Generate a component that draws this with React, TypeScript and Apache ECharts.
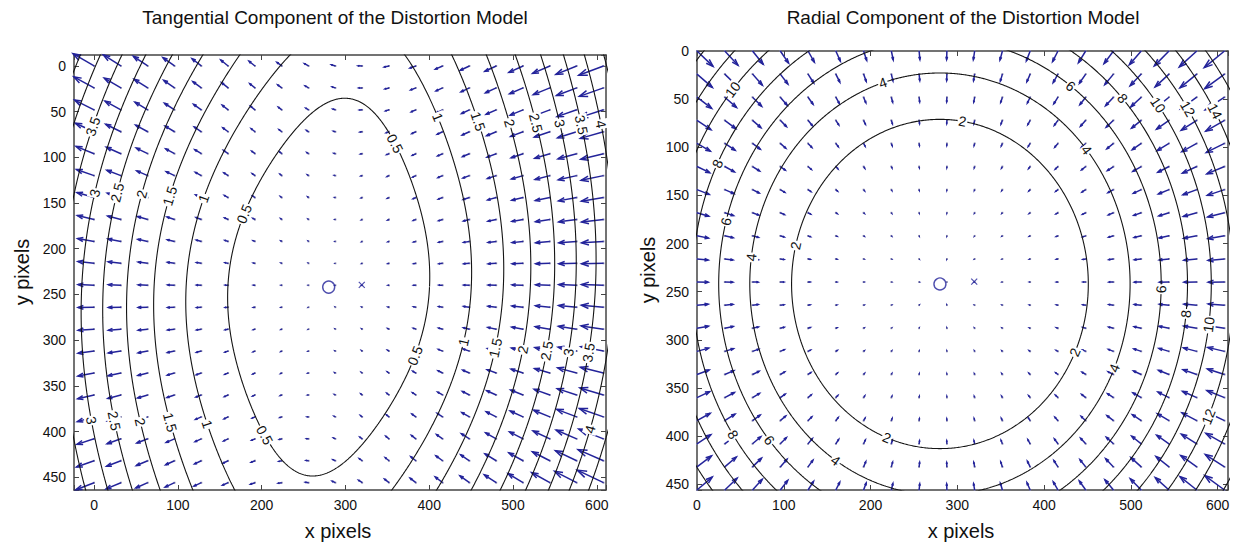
import React, { useEffect, useRef } from "react";
import * as echarts from "echarts";

// ---------- data ----------
// quiver grid (image pixels)
const gridX = [0, 32, 64, 96, 128, 160, 192, 224, 256, 288, 320, 352, 384, 416, 448, 480, 512, 544, 576, 608];
const gridY = [0, 24, 48, 72, 96, 120, 144, 168, 192, 216, 240, 264, 288, 312, 336, 360, 384, 408, 432, 456];
// principal point ("o") and image centre ("x")
const principalPoint = [280, 242];
const imageCenter = [319.5, 239.5];
// contour levels (pixels of displacement)
const tangentialLevels = [0.5, 1, 1.5, 2, 2.5, 3, 3.5, 4, 4.5];
const radialLevels = [2, 4, 6, 8, 10, 12, 14, 16];
// distortion coefficients estimated from the contour spacing
const tangentialCoef = [-1.34e-6, -1.15e-5]; // p1/fc, p2/fc (per pixel)
const radialCoef = [0.4312, -0.01066]; // px displacement: a*(r/100)^3 + b*(r/100)^5
// arrow length relative to MATLAB's auto-scale
const arrowScale = [1.0, 0.85];
// axis ranges
const leftXRange = [-24, 611];
const leftYRange = [-12, 464];
const rightXRange = [0, 612];
const rightYRange = [0, 456];
const titles = ["Tangential Component of the Distortion Model", "Radial Component of the Distortion Model"];

// ---------- layout / style ----------
const FONT = "'Liberation Sans', Arial, Helvetica, sans-serif";
const ARROW = "#23239a";
const LINE = "#151515";
const FRAME = "#444";
const GRIDS = [
  { left: 74, top: 55, width: 532, height: 435 },
  { left: 697, top: 51, width: 531, height: 439 },
];

function tangentialAt(x: number, y: number) {
  const X = x - principalPoint[0];
  const Y = y - principalPoint[1];
  const R2 = X * X + Y * Y;
  const [p1, p2] = tangentialCoef;
  return [2 * p1 * X * Y + p2 * (R2 + 2 * X * X), p1 * (R2 + 2 * Y * Y) + 2 * p2 * X * Y];
}
function radialMag(R: number) {
  const u = R / 100;
  return radialCoef[0] * u * u * u + radialCoef[1] * u * u * u * u * u;
}
function radialAt(x: number, y: number) {
  const X = x - principalPoint[0];
  const Y = y - principalPoint[1];
  const R = Math.hypot(X, Y);
  if (R < 1e-9) return [0, 0];
  const m = radialMag(R);
  return [(-m * X) / R, (-m * Y) / R];
}

function quiverData(field: (x: number, y: number) => number[], extra: number) {
  const pts: number[][] = [];
  for (const y of gridY) for (const x of gridX) {
    const [u, v] = field(x, y);
    pts.push([x, y, u, v]);
  }
  const delx = (gridX[gridX.length - 1] - gridX[0]) / gridX.length;
  const dely = (gridY[gridY.length - 1] - gridY[0]) / gridY.length;
  const del = delx * delx + dely * dely;
  let maxlen = 0;
  for (const p of pts) maxlen = Math.max(maxlen, Math.sqrt((p[2] * p[2] + p[3] * p[3]) / del));
  const s = (0.9 / maxlen) * extra;
  return pts.map((p) => [p[0], p[1], p[2] * s, p[3] * s]);
}

function tangentialContour(L: number) {
  const N = 1440;
  const pts: number[][] = [];
  for (let i = 0; i <= N; i++) {
    const t = (i / N) * Math.PI * 2;
    const c = Math.cos(t), s = Math.sin(t);
    const [u, v] = tangentialAt(principalPoint[0] + c, principalPoint[1] + s);
    const R = Math.sqrt(L / Math.hypot(u, v));
    pts.push([principalPoint[0] + R * c, principalPoint[1] + R * s]);
  }
  return pts;
}
function radialContour(L: number) {
  let lo = 0, hi = 480;
  for (let k = 0; k < 60; k++) {
    const mid = (lo + hi) / 2;
    if (radialMag(mid) < L) lo = mid; else hi = mid;
  }
  const R = (lo + hi) / 2;
  const N = 1440;
  const pts: number[][] = [];
  for (let i = 0; i <= N; i++) {
    const t = (i / N) * Math.PI * 2;
    pts.push([principalPoint[0] + R * Math.cos(t), principalPoint[1] + R * Math.sin(t)]);
  }
  return pts;
}

function visibleRuns(pts: number[][], xr: number[], yr: number[]) {
  const inside = (p: number[]) => p[0] >= xr[0] && p[0] <= xr[1] && p[1] >= yr[0] && p[1] <= yr[1];
  const n = pts.length - 1;
  let start = -1;
  for (let i = 0; i < n; i++) if (!inside(pts[i])) { start = i; break; }
  if (start < 0) return [pts];
  const runs: number[][][] = [];
  let cur: number[][] = [];
  for (let k = 0; k <= n; k++) {
    const p = pts[(start + k) % n];
    if (inside(p)) cur.push(p);
    else { if (cur.length > 1) runs.push(cur); cur = []; }
  }
  if (cur.length > 1) runs.push(cur);
  return runs;
}

function placeLabels(runs: number[][][], sx: number, sy: number, text: string, startGap: number, spacing: number) {
  const out: { d: number[]; t: string }[] = [];
  for (const run of runs) {
    const cum = [0];
    for (let i = 1; i < run.length; i++) {
      cum.push(cum[i - 1] + Math.hypot((run[i][0] - run[i - 1][0]) * sx, (run[i][1] - run[i - 1][1]) * sy));
    }
    const total = cum[cum.length - 1];
    for (let s = startGap; s < total - 25; s += spacing) {
      let i = 0;
      while (i < cum.length - 1 && cum[i] < s) i++;
      const a = run[Math.max(0, i - 4)], b = run[Math.min(run.length - 1, i + 4)];
      out.push({ d: [run[i][0], run[i][1], a[0], a[1], b[0], b[1]], t: text });
    }
  }
  return out;
}

function arrowRender(_params: any, api: any) {
  const x = api.value(0), y = api.value(1), u = api.value(2), v = api.value(3);
  const a = 0.33, b = 0.33, eps = 1e-12;
  const base = api.coord([x, y]);
  const tip = api.coord([x + u, y + v]);
  const h1 = api.coord([x + u - a * (u + b * (v + eps)), y + v - a * (v - b * (u + eps))]);
  const h2 = api.coord([x + u - a * (u - b * (v + eps)), y + v - a * (v + b * (u + eps))]);
  return {
    type: "group",
    children: [
      { type: "rect", shape: { x: base[0] - 0.9, y: base[1] - 0.9, width: 1.8, height: 1.8 }, style: { fill: "#8080a8" } },
      { type: "line", shape: { x1: base[0], y1: base[1], x2: tip[0], y2: tip[1] }, style: { stroke: ARROW, lineWidth: 1.5 } },
      { type: "polyline", shape: { points: [h1, tip, h2] }, style: { stroke: ARROW, fill: "none", lineWidth: 1.5 } },
    ],
  };
}

function labelSeries(labels: { d: number[]; t: string }[], axisIndex: number) {
  return {
    type: "custom",
    xAxisIndex: axisIndex,
    yAxisIndex: axisIndex,
    silent: true,
    clip: false,
    z: 6,
    data: labels.map((l) => l.d),
    renderItem: (params: any, api: any) => {
      const p = api.coord([api.value(0), api.value(1)]);
      const a = api.coord([api.value(2), api.value(3)]);
      const b = api.coord([api.value(4), api.value(5)]);
      let ang = Math.atan2(b[1] - a[1], b[0] - a[0]);
      if (ang > Math.PI / 2) ang -= Math.PI;
      if (ang < -Math.PI / 2) ang += Math.PI;
      return {
        type: "text",
        x: p[0],
        y: p[1],
        rotation: -ang,
        style: {
          text: labels[params.dataIndex].t,
          fill: "#111",
          fontSize: 14,
          fontFamily: FONT,
          align: "center",
          verticalAlign: "middle",
          backgroundColor: "#fff",
          padding: [0, 1],
        },
      };
    },
  };
}

function makeXAxes(gridIndex: number, range: number[]) {
  const common = {
    type: "value",
    gridIndex,
    min: range[0],
    max: range[1],
    splitNumber: 6,
    minInterval: 100,
    maxInterval: 100,
    splitLine: { show: false },
    axisLine: { onZero: false, lineStyle: { color: FRAME, width: 1.5 } },
    axisTick: { inside: true, length: 5, lineStyle: { color: FRAME } },
  };
  return [
    {
      ...common,
      position: "bottom",
      axisLabel: {
        formatter: (v: number) => (Math.abs(v % 100) < 1e-6 ? String(v) : ""),
        fontSize: 14,
        fontFamily: FONT,
        color: "#111",
        margin: 8,
      },
    },
    { ...common, position: "top", axisLabel: { show: false } },
  ];
}
function makeYAxes(gridIndex: number, range: number[]) {
  const common = {
    type: "value",
    gridIndex,
    min: range[0],
    max: range[1],
    inverse: true,
    splitNumber: 9,
    minInterval: 50,
    maxInterval: 50,
    splitLine: { show: false },
    axisLine: { onZero: false, lineStyle: { color: FRAME, width: 1.5 } },
    axisTick: { inside: true, length: 5, lineStyle: { color: FRAME } },
  };
  return [
    {
      ...common,
      position: "left",
      axisLabel: {
        formatter: (v: number) => (Math.abs(v % 50) < 1e-6 ? String(v) : ""),
        fontSize: 14,
        fontFamily: FONT,
        color: "#111",
        margin: 8,
      },
    },
    { ...common, position: "right", axisLabel: { show: false } },
  ];
}

function buildOption() {
  const series: any[] = [];
  const panels = [
    { axis: 0, xr: leftXRange, yr: leftYRange, field: tangentialAt, levels: tangentialLevels, contour: tangentialContour, g: GRIDS[0], k: arrowScale[0] },
    { axis: 2, xr: rightXRange, yr: rightYRange, field: radialAt, levels: radialLevels, contour: radialContour, g: GRIDS[1], k: arrowScale[1] },
  ];
  for (const P of panels) {
    const sx = P.g.width / (P.xr[1] - P.xr[0]);
    const sy = P.g.height / (P.yr[1] - P.yr[0]);
    series.push({
      type: "custom",
      xAxisIndex: P.axis,
      yAxisIndex: P.axis,
      silent: true,
      clip: false,
      z: 2,
      data: quiverData(P.field, P.k),
      renderItem: arrowRender,
    });
    let labels: { d: number[]; t: string }[] = [];
    for (const L of P.levels) {
      const pts = P.contour(L);
      series.push({
        type: "line",
        xAxisIndex: P.axis,
        yAxisIndex: P.axis,
        data: pts,
        showSymbol: false,
        symbol: "none",
        silent: true,
        clip: true,
        z: 3,
        lineStyle: { color: LINE, width: 1.1 },
      });
      labels = labels.concat(placeLabels(visibleRuns(pts, P.xr, P.yr), sx, sy, String(L), 70, 230));
    }
    series.push(labelSeries(labels, P.axis));
    series.push({
      type: "scatter",
      xAxisIndex: P.axis,
      yAxisIndex: P.axis,
      silent: true,
      z: 7,
      symbol: "circle",
      symbolSize: 12,
      itemStyle: { color: "rgba(0,0,0,0)", borderColor: ARROW, borderWidth: 1.4 },
      data: [principalPoint],
    });
    series.push({
      type: "scatter",
      xAxisIndex: P.axis,
      yAxisIndex: P.axis,
      silent: true,
      z: 7,
      symbol: "path://M0,0L10,10M10,0L0,10",
      symbolSize: 6,
      itemStyle: { color: "none", borderColor: ARROW, borderWidth: 1.2 },
      data: [imageCenter],
    });
  }

  const textStyle = (size: number) => ({ font: `${size}px ${FONT}`, fill: "#111", align: "center", verticalAlign: "middle" });
  return {
    animation: false,
    backgroundColor: "#fff",
    grid: GRIDS,
    xAxis: [...makeXAxes(0, leftXRange), ...makeXAxes(1, rightXRange)],
    yAxis: [...makeYAxes(0, leftYRange), ...makeYAxes(1, rightYRange)],
    graphic: [
      { type: "text", x: 335, y: 17, style: { text: titles[0], ...textStyle(19) } },
      { type: "text", x: 963, y: 17, style: { text: titles[1], ...textStyle(19) } },
      { type: "text", x: 338, y: 531, style: { text: "x pixels", ...textStyle(20) } },
      { type: "text", x: 961, y: 531, style: { text: "x pixels", ...textStyle(20) } },
      { type: "text", x: 22, y: 272, rotation: Math.PI / 2, style: { text: "y pixels", ...textStyle(20) } },
      { type: "text", x: 648, y: 270, rotation: Math.PI / 2, style: { text: "y pixels", ...textStyle(20) } },
    ],
    series,
  };
}

export default function App() {
  const ref = useRef<HTMLDivElement>(null);
  useEffect(() => {
    if (!ref.current) return;
    const chart = echarts.init(ref.current, undefined, { renderer: "svg" });
    chart.setOption(buildOption() as any);
    return () => chart.dispose();
  }, []);
  return (
    <div
      ref={ref}
      style={{ position: "absolute", left: 0, top: 0, width: 1239, height: 547, background: "#fff" }}
    />
  );
}
